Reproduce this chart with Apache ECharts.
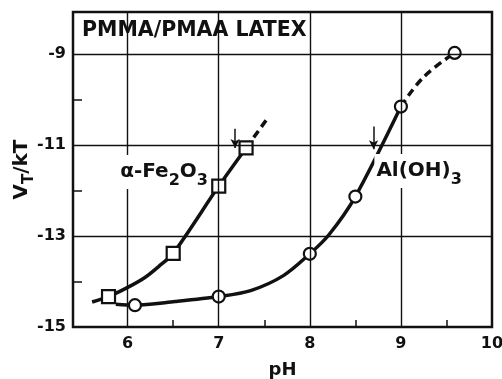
<!DOCTYPE html>
<html>
<head>
<meta charset="utf-8">
<script src="https://cdn.jsdelivr.net/npm/echarts@6/dist/echarts.min.js"></script>
<style>
  html, body { margin: 0; padding: 0; background: #fff; }
  #chart { width: 502px; height: 379px; }
</style>
</head>
<body>
<div id="chart"></div>
<script>
// α-Fe2O3: measured points and the curve drawn through them
const fePH = [5.79, 6.5, 7.0, 7.3];
const feV = [-14.33, -13.38, -11.9, -11.06];
const feCurvePH = [5.61, 5.79, 5.99, 6.19, 6.34, 6.5, 7.0, 7.3];
const feCurveV = [-14.45, -14.33, -14.14, -13.91, -13.67, -13.38, -11.9, -11.06];
const feDashPH = [7.3, 7.55];
const feDashV = [-11.06, -10.37];

// Al(OH)3: measured points and the curve drawn through them
const alPH = [6.08, 7.0, 8.0, 8.5, 9.0, 9.59];
const alV = [-14.52, -14.33, -13.39, -12.13, -10.15, -8.97];
const alCurvePH = [5.87, 6.08, 6.52, 7.0, 7.35, 7.71, 8.0, 8.21, 8.5, 9.0];
const alCurveV = [-14.5, -14.52, -14.44, -14.33, -14.2, -13.87, -13.39, -12.97, -12.13, -10.15];
const alDashPH = [9.0, 9.25, 9.59];
const alDashV = [-10.15, -9.5, -8.97];

// downward arrows marking the onset on each curve
const feArrowPH = [7.18, 7.18];
const feArrowV = [-10.64, -11.06];
const alArrowPH = [8.70, 8.70];
const alArrowV = [-10.59, -11.09];

// curve labels (anchor point in data units)
const feLabelAt = [6.40, -11.59];
const alLabelAt = [9.20, -11.57];

// axes
const phLabels = [6, 7, 8, 9, 10];
const phMinor = [6.5, 7.5, 8.5, 9.5];
const phGrid = [6, 7, 8, 9];
const vLabels = [-15, -13, -11, -9];
const vMinor = [-14, -12, -10];
const vGrid = [-13, -11, -9];

const INK = '#111';
const FONT = 'DejaVu Sans';

const zip = (xs, ys) => xs.map((x, i) => [x, ys[i]]);

const chart = echarts.init(document.getElementById('chart'), null, { renderer: 'canvas' });

chart.setOption({
  animation: false,
  backgroundColor: '#fff',
  title: {
    text: 'PMMA/PMAA LATEX',
    left: 82,
    top: 20,
    padding: 0,
    textStyle: { fontFamily: FONT, fontSize: 20.5, fontWeight: 'bold', color: INK }
  },
  grid: {
    left: 73, right: 10, top: 12, bottom: 52,
    containLabel: false, outerBoundsMode: 'none',
    show: true, borderColor: INK, borderWidth: 2.5, backgroundColor: 'transparent'
  },
  xAxis: {
    type: 'value',
    min: 5.4, max: 10,
    name: 'pH',
    nameLocation: 'middle',
    nameGap: 34,
    nameMoveOverlap: false,
    nameTextStyle: { fontFamily: FONT, fontSize: 18, fontWeight: 'bold', color: INK },
    axisLine: { show: false },
    axisTick: { show: true, inside: true, length: 7, customValues: phMinor,
      lineStyle: { color: INK, width: 1.5 } },
    axisLabel: { customValues: phLabels, margin: 9,
      fontFamily: FONT, fontSize: 16, fontWeight: 'bold', color: INK },
    splitLine: { show: false }
  },
  yAxis: {
    type: 'value',
    min: -15, max: -8.07,
    name: '{v|V}{s|T}{v|/kT}',
    nameLocation: 'middle',
    nameGap: 36,
    nameMoveOverlap: false,
    nameTextStyle: {
      color: INK,
      rich: {
        v: { fontFamily: FONT, fontSize: 20, fontWeight: 'bold', color: INK },
        s: { fontFamily: FONT, fontSize: 15, fontWeight: 'bold', color: INK, padding: [16, 0, 0, 0] }
      }
    },
    axisLine: { show: false },
    axisTick: { show: true, inside: true, length: 9, customValues: vMinor,
      lineStyle: { color: INK, width: 1.5 } },
    axisLabel: { customValues: vLabels, margin: 7,
      fontFamily: FONT, fontSize: 16, fontWeight: 'bold', color: INK },
    splitLine: { show: false }
  },
  series: [
    {
      // grid lines
      type: 'line', data: [], z: 1, silent: true,
      markLine: {
        silent: true, symbol: 'none', animation: false,
        label: { show: false },
        lineStyle: { color: INK, width: 1.4, type: 'solid' },
        emphasis: { disabled: true },
        data: phGrid.map(x => ({ xAxis: x })).concat(vGrid.map(y => ({ yAxis: y })))
      }
    },
    {
      type: 'line', data: zip(feCurvePH, feCurveV), z: 3,
      smooth: 0.3, symbol: 'none', silent: true,
      lineStyle: { color: INK, width: 3.5 }
    },
    {
      type: 'line', data: zip(feDashPH, feDashV), z: 3,
      symbol: 'none', silent: true,
      lineStyle: { color: INK, width: 3.5, type: [8, 5] }
    },
    {
      type: 'line', data: zip(alCurvePH, alCurveV), z: 3,
      smooth: 0.3, symbol: 'none', silent: true,
      lineStyle: { color: INK, width: 3.5 }
    },
    {
      type: 'line', data: zip(alDashPH, alDashV), z: 3,
      smooth: 0.4, symbol: 'none', silent: true,
      lineStyle: { color: INK, width: 3.5, type: [8, 5] }
    },
    {
      // onset arrows
      type: 'line', data: [], z: 3, silent: true,
      markLine: {
        silent: true, symbol: ['none', 'arrow'], symbolSize: [7, 9], animation: false,
        label: { show: false },
        lineStyle: { color: INK, width: 1.5, type: 'solid' },
        emphasis: { disabled: true },
        data: [
          [{ coord: [feArrowPH[0], feArrowV[0]] }, { coord: [feArrowPH[1], feArrowV[1]] }],
          [{ coord: [alArrowPH[0], alArrowV[0]] }, { coord: [alArrowPH[1], alArrowV[1]] }]
        ]
      }
    },
    {
      type: 'scatter', data: zip(fePH, feV), z: 4, silent: true,
      symbol: 'rect', symbolSize: 13,
      itemStyle: { color: '#fff', borderColor: INK, borderWidth: 2.2, opacity: 1 }
    },
    {
      type: 'scatter', data: zip(alPH, alV), z: 4, silent: true,
      symbol: 'circle', symbolSize: 12,
      itemStyle: { color: '#fff', borderColor: INK, borderWidth: 2.2, opacity: 1 }
    },
    {
      // curve names
      type: 'scatter', z: 5, silent: true, symbolSize: 0,
      itemStyle: { opacity: 1 },
      data: [
        { value: feLabelAt, label: { formatter: '{m|α-Fe}{s|2}{m|O}{s|3}' } },
        { value: alLabelAt, label: { formatter: '{m|Al(OH)}{s|3}' } }
      ],
      label: {
        show: true, position: 'inside', color: INK, opacity: 1,
        backgroundColor: '#fff', padding: [0, 2, 0, 2],
        rich: {
          m: { fontFamily: FONT, fontSize: 20, fontWeight: 'bold', color: INK },
          s: { fontFamily: FONT, fontSize: 16, fontWeight: 'bold', color: INK, padding: [18, 0, 0, 0] }
        }
      }
    }
  ]
});
</script>
</body>
</html>
